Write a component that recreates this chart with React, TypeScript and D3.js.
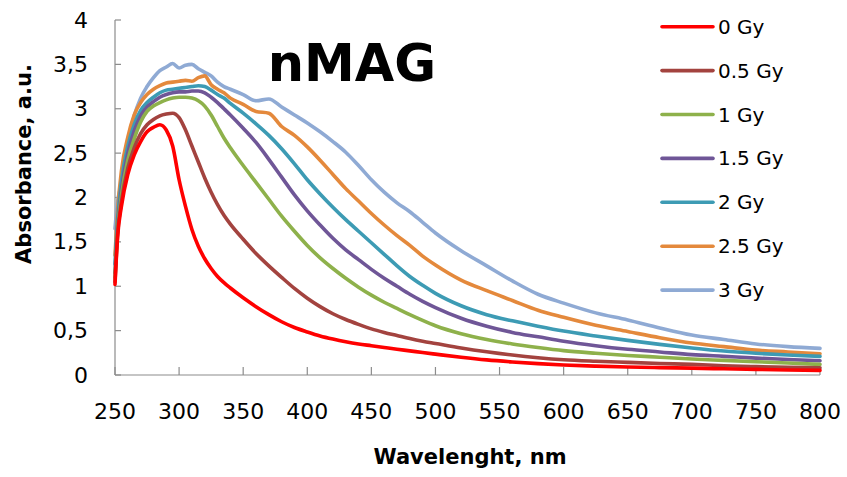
import React from "react";
import * as d3 from "d3";

const wavelengths = [250,252,255,260,265,270,275,280,285,290,295,300,305,310,315,320,325,330,335,340,350,360,370,380,390,400,410,420,430,440,450,460,470,480,490,500,520,540,560,580,600,625,650,675,700,725,750,775,800];

const gy0 = [1.02,1.55,1.90,2.26,2.48,2.63,2.74,2.79,2.82,2.76,2.58,2.20,1.90,1.64,1.45,1.31,1.20,1.11,1.04,0.98,0.87,0.77,0.68,0.60,0.535,0.485,0.44,0.405,0.375,0.35,0.33,0.31,0.29,0.272,0.253,0.235,0.2,0.17,0.147,0.128,0.113,0.10,0.09,0.083,0.077,0.07,0.063,0.057,0.052];
const gy05 = [1.05,1.58,1.95,2.33,2.56,2.72,2.82,2.88,2.92,2.94,2.95,2.90,2.76,2.58,2.40,2.22,2.06,1.92,1.80,1.70,1.53,1.37,1.23,1.10,0.975,0.865,0.77,0.69,0.625,0.57,0.52,0.48,0.445,0.41,0.38,0.355,0.305,0.262,0.225,0.195,0.172,0.155,0.142,0.13,0.12,0.105,0.095,0.087,0.08];
const gy1 = [1.10,1.62,2.02,2.42,2.66,2.85,2.97,3.03,3.07,3.10,3.12,3.13,3.13,3.12,3.09,3.03,2.93,2.80,2.67,2.56,2.36,2.17,1.98,1.79,1.62,1.46,1.32,1.20,1.09,0.99,0.90,0.82,0.75,0.68,0.615,0.555,0.465,0.40,0.35,0.31,0.275,0.245,0.22,0.20,0.18,0.165,0.15,0.135,0.12];
const gy15 = [1.15,1.66,2.08,2.50,2.75,2.92,3.02,3.08,3.13,3.16,3.18,3.19,3.19,3.20,3.20,3.18,3.13,3.07,3.00,2.93,2.78,2.62,2.43,2.23,2.03,1.85,1.69,1.54,1.41,1.30,1.19,1.09,1.00,0.91,0.83,0.76,0.64,0.55,0.48,0.43,0.38,0.33,0.29,0.26,0.23,0.21,0.19,0.175,0.16];
const gy2 = [1.25,1.75,2.18,2.58,2.82,2.98,3.07,3.13,3.18,3.21,3.22,3.23,3.24,3.25,3.26,3.25,3.21,3.16,3.12,3.06,2.95,2.83,2.70,2.55,2.38,2.20,2.04,1.89,1.75,1.62,1.49,1.36,1.23,1.11,1.01,0.92,0.78,0.68,0.61,0.55,0.495,0.44,0.39,0.345,0.305,0.27,0.245,0.225,0.21];
const gy25 = [1.35,1.85,2.30,2.68,2.93,3.07,3.16,3.22,3.26,3.29,3.30,3.31,3.32,3.31,3.35,3.37,3.27,3.22,3.18,3.12,3.05,2.97,2.95,2.80,2.70,2.57,2.42,2.26,2.10,1.96,1.82,1.69,1.57,1.46,1.34,1.24,1.07,0.95,0.84,0.73,0.65,0.56,0.49,0.42,0.36,0.32,0.28,0.26,0.24];
const gy3 = [1.65,1.95,2.15,2.60,2.92,3.12,3.25,3.35,3.43,3.47,3.51,3.46,3.49,3.50,3.45,3.41,3.37,3.30,3.25,3.22,3.16,3.09,3.11,3.02,2.93,2.84,2.74,2.63,2.51,2.36,2.20,2.06,1.94,1.84,1.72,1.60,1.40,1.23,1.06,0.91,0.81,0.70,0.62,0.53,0.45,0.40,0.35,0.32,0.30];

const seriesNames = ["0 Gy","0.5 Gy","1 Gy","1.5 Gy","2 Gy","2.5 Gy","3 Gy"];
const seriesValues = [gy0, gy05, gy1, gy15, gy2, gy25, gy3];
const seriesColors = ["#FF0000","#A3433F","#8EB14B","#6F5697","#3D9BB4","#E4893C","#8FAAD4"];

const xTicks = [250,300,350,400,450,500,550,600,650,700,750,800];
const yTicks = [0,0.5,1,1.5,2,2.5,3,3.5,4];
const yTickLabels = ["0","0,5","1","1,5","2","2,5","3","3,5","4"];

const W = 847, H = 477;
const FONT = "'DejaVu Sans', sans-serif";

export default function App() {
  const x = d3.scaleLinear().domain([250, 800]).range([115, 820]);
  const y = d3.scaleLinear().domain([0, 4]).range([375, 20]);
  const line = d3.line<[number, number]>()
    .x(d => x(d[0]))
    .y(d => y(d[1]))
    .curve(d3.curveMonotoneX);
  const axisColor = "#8c8c8c";
  const order = [6,5,4,3,2,1,0];
  return (
    <svg width={W} height={H} style={{ position: "absolute", left: 0, top: 0, background: "#fff" }} fontFamily={FONT}>
      <rect x={0} y={0} width={W} height={H} fill="#fff" />
      <line x1={x(250)} x2={x(250)} y1={y(4)} y2={y(0)} stroke={axisColor} strokeWidth={1.2} />
      <line x1={x(250)} x2={x(800)} y1={y(0)} y2={y(0)} stroke={axisColor} strokeWidth={1.2} />
      {yTicks.map(t => (
        <line key={"yt" + t} x1={x(250)} x2={x(250) + 6} y1={y(t)} y2={y(t)} stroke={axisColor} strokeWidth={1.2} />
      ))}
      {xTicks.map(t => (
        <line key={"xt" + t} x1={x(t)} x2={x(t)} y1={y(0)} y2={y(0) - 8} stroke={axisColor} strokeWidth={1.2} />
      ))}
      {yTicks.map((t, i) => (
        <text key={"yl" + t} x={88} y={y(t)} textAnchor="end" dominantBaseline="central" fontSize={22} fill="#000">{yTickLabels[i]}</text>
      ))}
      {xTicks.map(t => (
        <text key={"xl" + t} x={x(t)} y={419} textAnchor="middle" fontSize={22} fill="#000">{t}</text>
      ))}
      {order.map(i => (
        <path key={"s" + i}
          d={line(wavelengths.map((w, j) => [w, seriesValues[i][j]] as [number, number])) || ""}
          fill="none" stroke={seriesColors[i]} strokeWidth={3.6} strokeLinejoin="round" strokeLinecap="round" />
      ))}
      <text x={352} y={81} textAnchor="middle" fontSize={51} fontWeight="bold" fill="#000">nMAG</text>
      <text x={470} y={464} textAnchor="middle" fontSize={21} fontWeight="bold" fill="#000">Wavelenght, nm</text>
      <text transform="translate(31,164) rotate(-90)" textAnchor="middle" fontSize={21} fontWeight="bold" fill="#000">Absorbance, a.u.</text>
      {seriesNames.map((n, i) => {
        const ly = 26.7 + i * 43.9;
        return (
          <g key={"lg" + i}>
            <line x1={662} x2={713} y1={ly} y2={ly} stroke={seriesColors[i]} strokeWidth={3.6} strokeLinecap="round" />
            <text x={718} y={ly} dominantBaseline="central" fontSize={20} fill="#000">{n}</text>
          </g>
        );
      })}
    </svg>
  );
}
